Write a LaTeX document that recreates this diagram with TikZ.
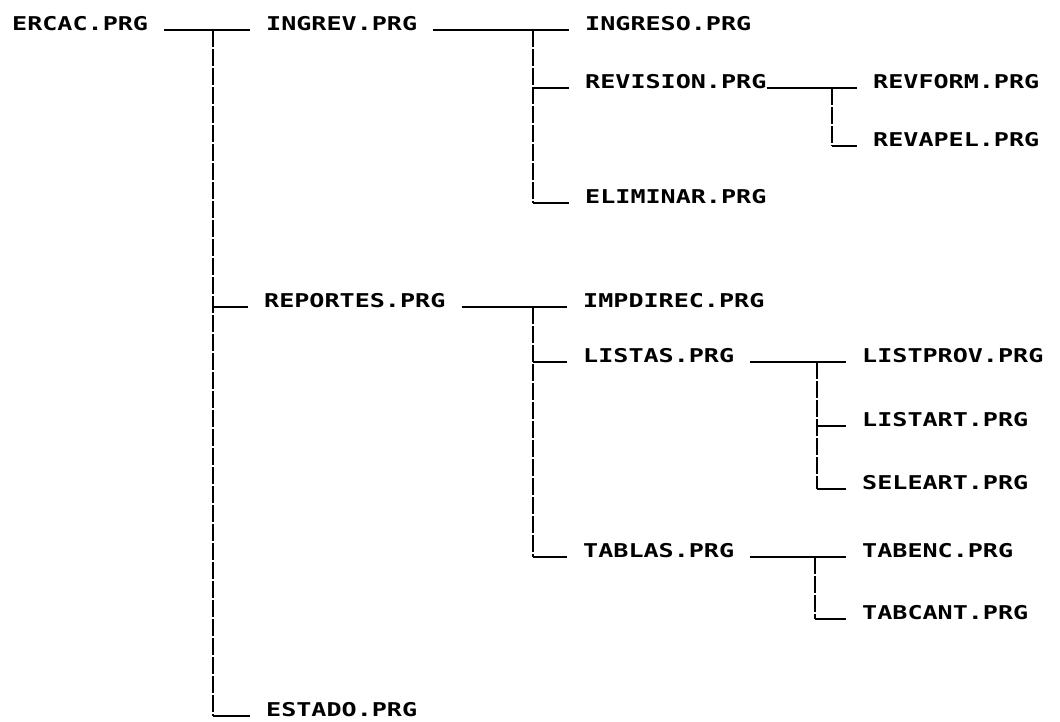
\documentclass[tikz,border=0pt]{standalone}
\usepackage{fontspec}
\usepackage{tikz}
\usetikzlibrary{positioning}
\newfontfamily\dotfont[FakeStretch=1.32]{DejaVu Sans Mono Bold}

\begin{document}
\begin{tikzpicture}[x=1pt,y=-1pt,
  prg/.style={font=\dotfont\fontsize{19}{19}\selectfont,anchor=base west,inner xsep=16pt,inner ysep=2pt},
  link/.style={line width=2.4pt},
  trunk/.style={line width=2.4pt,dash pattern=on 17pt off 2pt}]
  \useasboundingbox (0,0) rectangle (1060,721);
  % level 0 and 1
  \node[prg] (ercac) at (-4,30) {ERCAC.PRG};
  \node[prg] (ingrev) at (250,30) {INGREV.PRG};
  \node[prg] (reportes) at (248,307) {REPORTES.PRG};
  \node[prg] (estado) at (250,716) {ESTADO.PRG};
  % level 2
  \node[prg] (ingreso) at (569,30) {INGRESO.PRG};
  \node[prg] (revision) at (569,88) {REVISION.PRG};
  \node[prg] (eliminar) at (569,203) {ELIMINAR.PRG};
  \node[prg] (impdirec) at (567,307) {IMPDIREC.PRG};
  \node[prg] (listas) at (567,362) {LISTAS.PRG};
  \node[prg] (tablas) at (567,557) {TABLAS.PRG};
  % level 3
  \node[prg] (revform) at (857,88) {REVFORM.PRG};
  \node[prg] (revapel) at (857,146) {REVAPEL.PRG};
  \node[prg] (listprov) at (846,362) {LISTPROV.PRG};
  \node[prg] (listart) at (846,426) {LISTART.PRG};
  \node[prg] (seleart) at (846,489) {SELEART.PRG};
  \node[prg] (tabenc) at (846,557) {TABENC.PRG};
  \node[prg] (tabcant) at (846,619) {TABCANT.PRG};
  % trunk positions
  \coordinate (t0) at (213,0);
  \coordinate (t1) at (533,0);
  \coordinate (t2) at (832,0);
  \coordinate (t4) at (817,0);
  \coordinate (t5) at (815,0);
  % ERCAC
  \draw[link] (ercac.base east) -- (ingrev.base west);
  \draw[trunk] (t0 |- ercac.base) -- (t0 |- estado.base);
  \foreach \n in {reportes,estado}
    \draw[link] (t0 |- \n.base) -- (\n.base west);
  % INGREV
  \draw[link] (ingrev.base east) -- (ingreso.base west);
  \draw[trunk] (t1 |- ingreso.base) -- (t1 |- eliminar.base);
  \foreach \n in {revision,eliminar}
    \draw[link] (t1 |- \n.base) -- (\n.base west);
  % REVISION
  \draw[link] ([xshift=-16pt]revision.base east) -- (revform.base west);
  \draw[trunk] (t2 |- revform.base) -- (t2 |- revapel.base);
  \draw[link] (t2 |- revapel.base) -- (revapel.base west);
  % REPORTES
  \draw[link] (reportes.base east) -- (impdirec.base west);
  \draw[trunk] (t1 |- impdirec.base) -- (t1 |- tablas.base);
  \foreach \n in {listas,tablas}
    \draw[link] (t1 |- \n.base) -- (\n.base west);
  % LISTAS
  \draw[link] (listas.base east) -- (listprov.base west);
  \draw[trunk] (t4 |- listprov.base) -- (t4 |- seleart.base);
  \foreach \n in {listart,seleart}
    \draw[link] (t4 |- \n.base) -- (\n.base west);
  % TABLAS
  \draw[link] (tablas.base east) -- (tabenc.base west);
  \draw[trunk] (t5 |- tabenc.base) -- (t5 |- tabcant.base);
  \draw[link] (t5 |- tabcant.base) -- (tabcant.base west);
\end{tikzpicture}
\end{document}
